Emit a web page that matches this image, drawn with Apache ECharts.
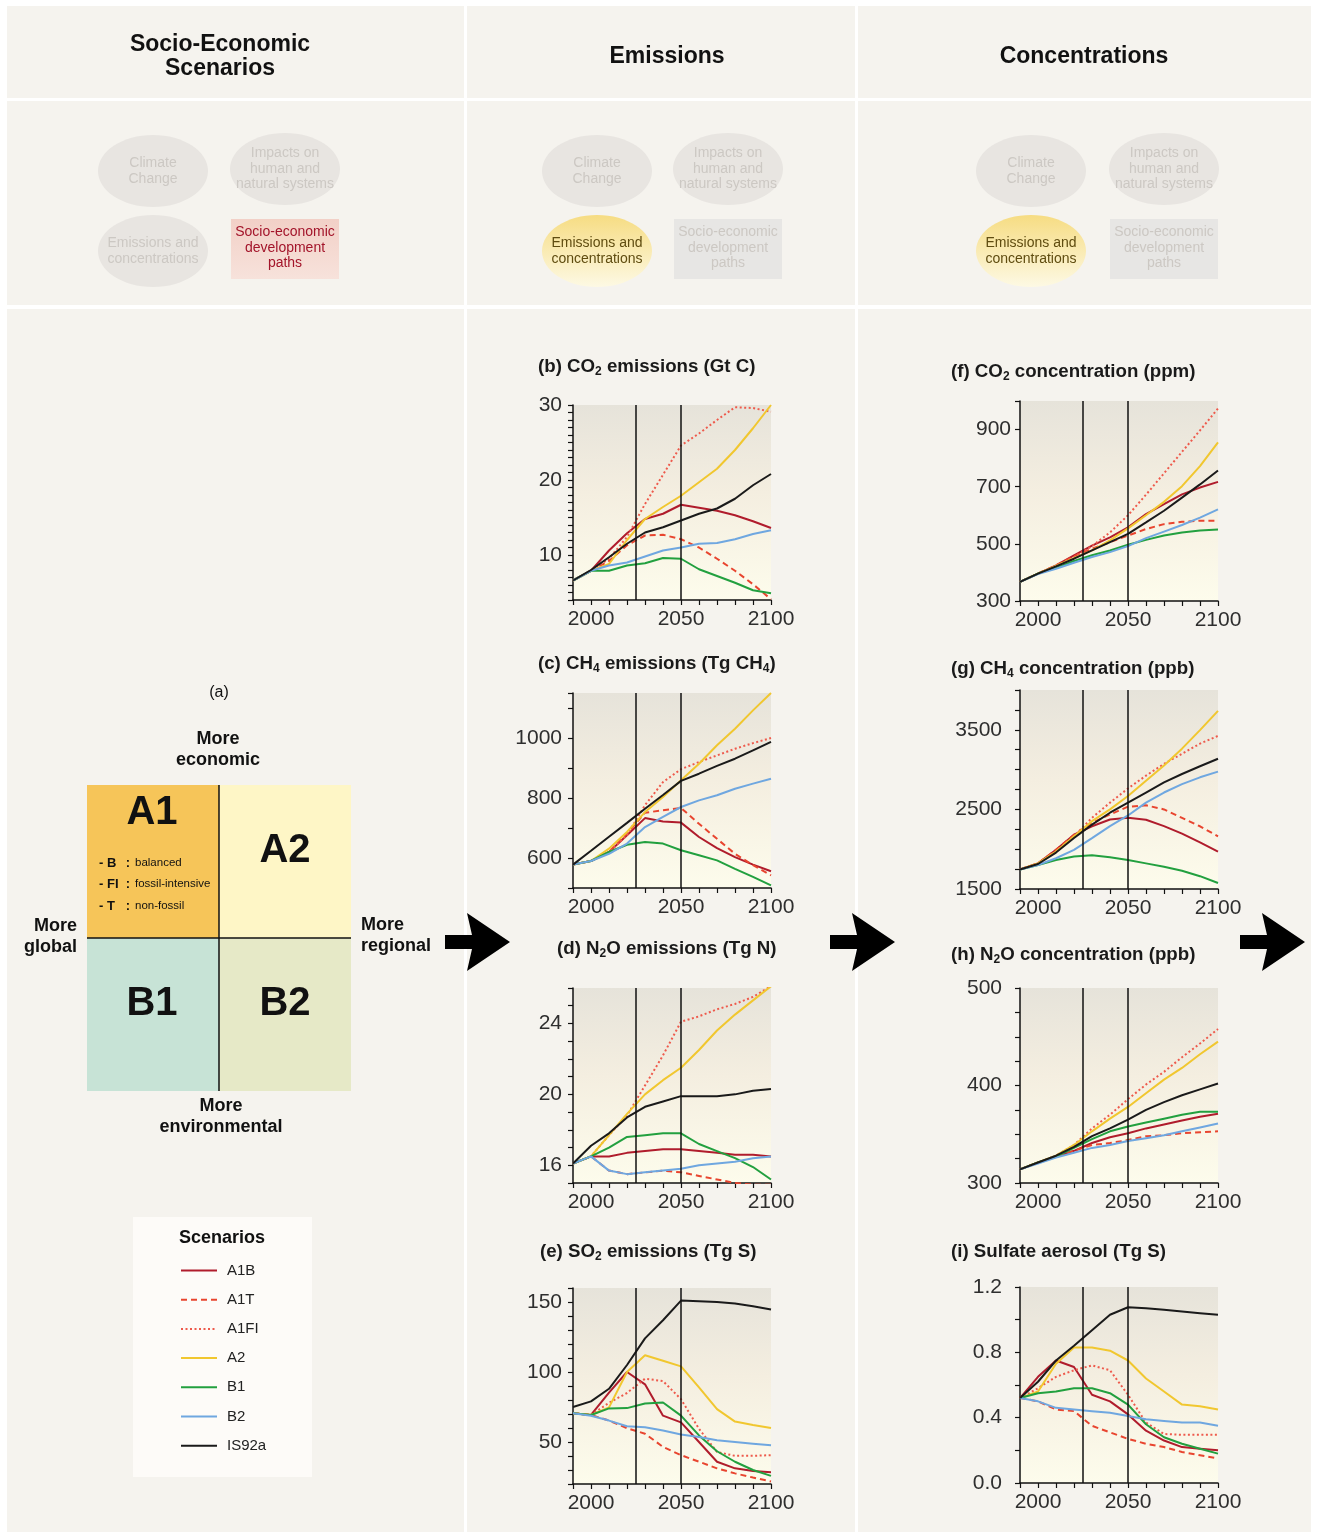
<!DOCTYPE html>
<html>
<head>
<meta charset="utf-8">
<script src="https://cdn.jsdelivr.net/npm/echarts@6/dist/echarts.min.js"></script>
<style>
  html, body { margin: 0; padding: 0; background: #ffffff; }
  #chart { width: 1319px; height: 1535px; }
</style>
</head>
<body>
<div id="chart"></div>
<script>
// ---- Data ------------------------------------------------------------
const years = [1990, 2000, 2010, 2020, 2030, 2040, 2050, 2060, 2070, 2080, 2090, 2100];
const scenarios = ['A1B', 'A1T', 'A1FI', 'A2', 'B1', 'B2', 'IS92a'];

// rows follow the order of `scenarios`
const co2Emissions = [
  [6.6, 7.9, 10.6, 12.9, 14.8, 15.5, 16.7, 16.3, 15.9, 15.3, 14.5, 13.6],
  [6.6, 7.9, 9.2, 11.3, 12.6, 12.7, 12.1, 11.0, 9.5, 7.9, 6.1, 4.1],
  [6.6, 7.9, 9.5, 12.4, 16.8, 20.7, 24.6, 26.2, 28.0, 29.7, 29.6, 29.1],
  [6.6, 7.9, 8.8, 12.0, 14.8, 16.4, 17.9, 19.7, 21.5, 24.0, 26.9, 30.0],
  [6.6, 7.9, 7.9, 8.6, 8.9, 9.6, 9.5, 8.1, 7.2, 6.3, 5.3, 4.9],
  [6.6, 7.9, 8.6, 9.0, 9.8, 10.6, 11.0, 11.5, 11.6, 12.1, 12.8, 13.3],
  [6.6, 8.0, 9.7, 11.5, 13.0, 13.7, 14.6, 15.5, 16.2, 17.5, 19.3, 20.8]
];
const ch4Emissions = [
  [578, 590, 620, 676, 733, 722, 718, 670, 633, 603, 578, 556],
  [578, 590, 620, 681, 751, 759, 767, 714, 664, 614, 576, 542],
  [578, 590, 620, 676, 776, 853, 896, 920, 942, 964, 983, 1000],
  [578, 590, 631, 687, 753, 803, 859, 914, 976, 1031, 1092, 1150],
  [578, 590, 620, 644, 653, 648, 626, 609, 592, 564, 537, 509],
  [578, 590, 614, 648, 703, 737, 770, 792, 809, 831, 848, 864],
  [578, 624, 671, 717, 764, 810, 857, 881, 907, 931, 959, 987]
];
const n2oEmissions = [
  [16.1, 16.5, 16.5, 16.7, 16.8, 16.9, 16.9, 16.8, 16.7, 16.6, 16.6, 16.5],
  [16.1, 16.5, 15.7, 15.5, 15.6, 15.7, 15.6, 15.4, 15.2, 15.0, 14.9, 14.9],
  [16.1, 16.5, 17.7, 18.8, 20.5, 22.2, 24.1, 24.4, 24.8, 25.1, 25.5, 26.1],
  [16.1, 16.5, 17.7, 18.9, 20.0, 20.8, 21.5, 22.5, 23.6, 24.5, 25.3, 26.1],
  [16.1, 16.5, 17.0, 17.6, 17.7, 17.8, 17.8, 17.2, 16.8, 16.4, 15.9, 15.2],
  [16.1, 16.5, 15.7, 15.5, 15.6, 15.7, 15.8, 16.0, 16.1, 16.2, 16.4, 16.5],
  [16.1, 17.1, 17.8, 18.7, 19.3, 19.6, 19.9, 19.9, 19.9, 20.0, 20.2, 20.3]
];
const so2Emissions = [
  [70.5, 69.3, 85.3, 100, 91.2, 68.8, 64.0, 50.0, 35.9, 31.2, 29.3, 28.4],
  [70.5, 69.3, 65.3, 59.9, 55.9, 46.5, 40.6, 35.9, 31.2, 27.6, 24.6, 21.8],
  [70.5, 69.3, 78.0, 85.0, 95.2, 93.5, 80.6, 59.4, 42.9, 40.1, 40.1, 40.6],
  [70.5, 69.3, 74.7, 100, 112, 108, 104, 89.0, 73.5, 64.6, 62.2, 60.0],
  [70.5, 69.3, 74.0, 74.2, 77.5, 78.2, 68.8, 54.7, 43.4, 35.9, 30.0, 25.8],
  [70.5, 68.8, 65.3, 61.3, 60.6, 58.2, 55.4, 53.5, 51.2, 50.0, 48.8, 47.6],
  [75.0, 79.0, 88.0, 105, 124, 137, 151, 150.5, 150, 149, 147, 144.6]
];
const co2Concentration = [
  [367, 396, 425, 460, 494, 523, 558, 604, 639, 673, 697, 717],
  [367, 396, 425, 457, 483, 506, 529, 552, 569, 577, 581, 581],
  [367, 396, 423, 454, 492, 540, 600, 672, 747, 822, 897, 974],
  [367, 396, 423, 450, 477, 512, 554, 600, 647, 702, 772, 855],
  [367, 396, 416, 440, 460, 477, 497, 514, 529, 540, 547, 550],
  [367, 394, 413, 434, 454, 471, 492, 520, 543, 566, 592, 621],
  [367, 396, 421, 448, 477, 506, 535, 575, 616, 662, 708, 757]
];
const ch4Concentration = [
  [1746, 1822, 1992, 2182, 2288, 2373, 2394, 2370, 2290, 2195, 2085, 1970],
  [1746, 1822, 1992, 2182, 2330, 2436, 2534, 2551, 2500, 2394, 2288, 2161],
  [1746, 1822, 1970, 2161, 2394, 2585, 2763, 2924, 3072, 3199, 3326, 3424],
  [1746, 1822, 1970, 2161, 2352, 2500, 2669, 2860, 3051, 3263, 3496, 3737],
  [1746, 1801, 1864, 1907, 1924, 1898, 1864, 1822, 1780, 1729, 1661, 1576],
  [1746, 1801, 1886, 1992, 2140, 2290, 2424, 2585, 2712, 2818, 2903, 2975],
  [1746, 1814, 1958, 2140, 2309, 2458, 2585, 2712, 2839, 2945, 3042, 3136]
];
const n2oConcentration = [
  [314, 321, 327, 333, 341, 347, 351, 356, 360, 364, 368, 371],
  [314, 321, 327, 333, 339, 341, 344, 348, 349, 351, 352, 353],
  [314, 321, 328, 339, 356, 370, 386, 401, 414, 429, 443, 458],
  [314, 321, 328, 339, 353, 366, 378, 392, 406, 418, 432, 445],
  [314, 321, 327, 336, 345, 353, 358, 362, 366, 370, 373, 373],
  [314, 320, 326, 331, 336, 339, 343, 346, 349, 353, 357, 361],
  [314, 321, 328, 337, 348, 356, 365, 375, 383, 390, 396, 402]
];
const sulfateAerosol = [
  [0.52, 0.65, 0.75, 0.71, 0.54, 0.50, 0.42, 0.32, 0.26, 0.22, 0.21, 0.20],
  [0.52, 0.50, 0.45, 0.44, 0.35, 0.31, 0.27, 0.24, 0.22, 0.19, 0.17, 0.15],
  [0.52, 0.58, 0.65, 0.69, 0.72, 0.69, 0.54, 0.37, 0.30, 0.295, 0.295, 0.295],
  [0.52, 0.56, 0.73, 0.83, 0.83, 0.81, 0.75, 0.64, 0.56, 0.48, 0.47, 0.45],
  [0.52, 0.55, 0.56, 0.58, 0.58, 0.55, 0.48, 0.36, 0.28, 0.24, 0.21, 0.18],
  [0.52, 0.50, 0.46, 0.45, 0.44, 0.43, 0.41, 0.39, 0.38, 0.37, 0.37, 0.35],
  [0.52, 0.62, 0.75, 0.84, 0.935, 1.03, 1.076, 1.07, 1.06, 1.05, 1.04, 1.03]
];

// y-axis tick labels per panel
const co2EmTicks = [10, 20, 30];
const ch4EmTicks = [600, 800, 1000];
const n2oEmTicks = [16, 20, 24];
const so2EmTicks = [50, 100, 150];
const co2ConcTicks = [300, 500, 700, 900];
const ch4ConcTicks = [1500, 2500, 3500];
const n2oConcTicks = [300, 400, 500];
const sulfateTicks = [0, 0.4, 0.8, 1.2];
const yearLabels = [2000, 2050, 2100];
const markerYears = [2025, 2050];

// ---- Styling ---------------------------------------------------------
const FONT = "'Liberation Sans', Arial, sans-serif";
const lineLook = {
  A1B:   { color: '#b01c2c', type: 'solid' },
  A1T:   { color: '#e8452f', type: [6, 4] },
  A1FI:  { color: '#ee5a4c', type: [2, 2.5] },
  A2:    { color: '#f1c72f', type: 'solid' },
  B1:    { color: '#22a03f', type: 'solid' },
  B2:    { color: '#6fa7e0', type: 'solid' },
  IS92a: { color: '#1a1a1a', type: 'solid' }
};

const panels = [
  { rows: co2Emissions,     min: 4,    max: 30,   step: 1,   ticks: co2EmTicks,   dec: 0, box: [573, 405, 198, 195], lm: 11,
    title: '{t|(b) CO}{s|2}{t| emissions (Gt C)}', tx: 538, ty: 367 },
  { rows: ch4Emissions,     min: 500,  max: 1150, step: 100, ticks: ch4EmTicks,   dec: 0, box: [573, 693, 198, 195], lm: 11,
    title: '{t|(c) CH}{s|4}{t| emissions (Tg CH}{s|4}{t|)}', tx: 538, ty: 664 },
  { rows: n2oEmissions,     min: 15,   max: 26,   step: 1,   ticks: n2oEmTicks,   dec: 0, box: [573, 988, 198, 195], lm: 11,
    title: '{t|(d) N}{s|2}{t|O emissions (Tg N)}', tx: 557, ty: 949 },
  { rows: so2Emissions,     min: 20,   max: 160,  step: 10,  ticks: so2EmTicks,   dec: 0, box: [573, 1288, 198, 196], lm: 11,
    title: '{t|(e) SO}{s|2}{t| emissions (Tg S)}', tx: 540, ty: 1252 },
  { rows: co2Concentration, min: 300,  max: 1000, step: 200, ticks: co2ConcTicks, dec: 0, box: [1020, 401, 198, 200], lm: 9,
    title: '{t|(f) CO}{s|2}{t| concentration (ppm)}', tx: 951, ty: 372 },
  { rows: ch4Concentration, min: 1500, max: 4000, step: 250, ticks: ch4ConcTicks, dec: 0, box: [1020, 690, 198, 199], lm: 18,
    title: '{t|(g) CH}{s|4}{t| concentration (ppb)}', tx: 951, ty: 669 },
  { rows: n2oConcentration, min: 300,  max: 500,  step: 25,  ticks: n2oConcTicks, dec: 0, box: [1020, 988, 198, 195], lm: 18,
    title: '{t|(h) N}{s|2}{t|O concentration (ppb)}', tx: 951, ty: 955 },
  { rows: sulfateAerosol,   min: 0,    max: 1.2,  step: 0.2, ticks: sulfateTicks, dec: 1, box: [1020, 1287, 198, 196], lm: 18,
    title: '{t|(i) Sulfate aerosol (Tg S)}', tx: 951, ty: 1252 }
];

const plotFill = new echarts.graphic.LinearGradient(0, 0, 0, 1, [
  { offset: 0, color: '#e6e3da' },
  { offset: 0.45, color: '#f4eee0' },
  { offset: 1, color: '#fdfcec' }
]);

const grid = [], xAxis = [], yAxis = [], series = [];
panels.forEach((p, pi) => {
  grid.push({ left: p.box[0], top: p.box[1], width: p.box[2], height: p.box[3],
              show: true, backgroundColor: plotFill, borderWidth: 0, containLabel: false });
  xAxis.push({
    type: 'value', gridIndex: pi, min: 1990, max: 2100, interval: 10,
    axisLine: { show: true, onZero: false, lineStyle: { color: '#111', width: 1.5 } },
    axisTick: { show: true, length: 5, lineStyle: { color: '#111', width: 1.2 } },
    splitLine: { show: false },
    axisLabel: { margin: 9, fontSize: 21, color: '#2e2e2e', fontFamily: FONT,
                 formatter: v => (yearLabels.indexOf(v) >= 0 ? String(v) : '') }
  });
  yAxis.push({
    type: 'value', gridIndex: pi, min: p.min, max: p.max, interval: p.step,
    axisLine: { show: true, onZero: false, lineStyle: { color: '#111', width: 1.5 } },
    axisTick: { show: true, length: 5, lineStyle: { color: '#111', width: 1.2 } },
    splitLine: { show: false },
    axisLabel: { margin: p.lm, fontSize: 21, color: '#2e2e2e', fontFamily: FONT,
                 showMaxLabel: true,
                 formatter: v => (p.ticks.some(t => Math.abs(t - v) < 1e-6) ? v.toFixed(p.dec) : '') }
  });
  scenarios.forEach((name, si) => {
    const s = {
      type: 'line', name: name, xAxisIndex: pi, yAxisIndex: pi,
      data: years.map((yr, k) => [yr, p.rows[si][k]]),
      symbol: 'none', silent: true, animation: false,
      lineStyle: { color: lineLook[name].color, width: 2, type: lineLook[name].type },
      itemStyle: { color: lineLook[name].color }
    };
    if (si === scenarios.length - 1) {
      s.markLine = {
        silent: true, symbol: ['none', 'none'], animation: false,
        label: { show: false },
        lineStyle: { color: '#111', width: 1.5, type: 'solid' },
        data: markerYears.map(y => ({ xAxis: y }))
      };
    }
    series.push(s);
  });
});

// ---- Decorations -----------------------------------------------------
const g = [];
const cellFill = '#f5f3ee';
g.push({ type: 'rect', shape: { x: 0, y: 0, width: 1319, height: 1535 }, style: { fill: '#ffffff' }, z: -10 });
[[7, 457], [467, 388], [858, 453]].forEach(([x, w]) => {
  g.push({ type: 'rect', shape: { x: x, y: 6, width: w, height: 92 }, style: { fill: cellFill }, z: -9 });
  g.push({ type: 'rect', shape: { x: x, y: 101, width: w, height: 204 }, style: { fill: cellFill }, z: -9 });
  g.push({ type: 'rect', shape: { x: x, y: 309, width: w, height: 1223 }, style: { fill: cellFill }, z: -9 });
});

function label(text, x, y, size, opts) {
  opts = opts || {};
  return { type: 'text', x: x, y: y, z: 5,
    style: { text: text, fontSize: size, fontFamily: opts.family || FONT, fontWeight: opts.weight || 'normal',
             fill: opts.color || '#111', align: opts.align || 'center', verticalAlign: 'middle',
             lineHeight: opts.lh || size * 1.1 } };
}

// column headings
g.push(label('Socio-Economic\nScenarios', 220, 57, 23, { weight: 'bold', lh: 24 }));
g.push(label('Emissions', 667, 57, 23, { weight: 'bold' }));
g.push(label('Concentrations', 1084, 57, 23, { weight: 'bold' }));

// small schematic in each column
const faded = '#ccc8c3';
function schematic(cx1, cx2, active) {
  const e = (cx, cy, txt, on) => {
    const fill = on ? new echarts.graphic.LinearGradient(0, 0, 0, 1, [
      { offset: 0, color: '#f6dc82' }, { offset: 1, color: '#fdf9e4' }]) : '#e8e5e1';
    g.push({ type: 'ellipse', shape: { cx: cx, cy: cy, rx: 55, ry: 36 }, style: { fill: fill }, z: 1 });
    g.push(label(txt, cx, cy, 14, { color: on ? '#5f4c10' : faded, lh: 15.5 }));
  };
  e(cx1, 171, 'Climate\nChange', false);
  e(cx2, 169, 'Impacts on\nhuman and\nnatural systems', false);
  e(cx1, 251, 'Emissions and\nconcentrations', active === 'emis');
  const on = active === 'socio';
  const rf = on ? new echarts.graphic.LinearGradient(0, 0, 0, 1, [
    { offset: 0, color: '#f2d0c7' }, { offset: 1, color: '#f7e2db' }]) : '#e7e6e4';
  g.push({ type: 'rect', shape: { x: cx2 - 54, y: 219, width: 108, height: 60 }, style: { fill: rf }, z: 1 });
  g.push(label('Socio-economic\ndevelopment\npaths', cx2, 248, 14, { color: on ? '#a3142a' : faded, lh: 15.5 }));
}
schematic(153, 285, 'socio');
schematic(597, 728, 'emis');
schematic(1031, 1164, 'emis');

// panel titles
panels.forEach(p => {
  g.push({ type: 'text', x: p.tx, y: p.ty, z: 5,
    style: { text: p.title, align: 'left', verticalAlign: 'middle', fill: '#1a1a1a',
      rich: {
        t: { fontSize: 18.7, fontWeight: 'bold', fontFamily: FONT, fill: '#1a1a1a', lineHeight: 22 },
        s: { fontSize: 12, fontWeight: 'bold', fontFamily: FONT, fill: '#1a1a1a', lineHeight: 13, verticalAlign: 'bottom' }
      } } });
});

// (a) scenario quadrants
g.push(label('(a)', 219, 693, 16));
g.push(label('More\neconomic', 218, 750, 18, { weight: 'bold', lh: 21 }));
g.push(label('More\nenvironmental', 221, 1117, 18, { weight: 'bold', lh: 21 }));
g.push(label('More\nglobal', 77, 937, 18, { weight: 'bold', lh: 21, align: 'right' }));
g.push(label('More\nregional', 361, 936, 18, { weight: 'bold', lh: 21, align: 'left' }));
[[87, 785, '#f6c559'], [219, 785, '#fef6c6'], [87, 938, '#c7e3d6'], [219, 938, '#e6e9c7']].forEach(([x, y, c]) => {
  g.push({ type: 'rect', shape: { x: x, y: y, width: 132, height: 153 }, style: { fill: c }, z: 1 });
});
g.push({ type: 'line', shape: { x1: 219, y1: 785, x2: 219, y2: 1091 }, style: { stroke: '#111', lineWidth: 1.5 }, z: 2 });
g.push({ type: 'line', shape: { x1: 87, y1: 938, x2: 351, y2: 938 }, style: { stroke: '#111', lineWidth: 1.5 }, z: 2 });
g.push(label('A1', 152, 813, 40, { weight: 'bold' }));
g.push(label('A2', 285, 851, 40, { weight: 'bold' }));
g.push(label('B1', 152, 1004, 40, { weight: 'bold' }));
g.push(label('B2', 285, 1004, 40, { weight: 'bold' }));
[['- B', 863, 'balanced'], ['- FI', 884, 'fossil-intensive'], ['- T', 906, 'non-fossil']].forEach(([k, y, d]) => {
  g.push(label(k, 99, y, 13, { weight: 'bold', align: 'left' }));
  g.push(label(':', 128, y, 13, { weight: 'bold' }));
  g.push(label(d, 135, y, 11.5, { align: 'left' }));
});

// arrows between columns
function arrow(x0) {
  const cy = 942;
  return { type: 'polygon', z: 6, style: { fill: '#000' },
    shape: { points: [[x0, cy - 7], [x0 + 27, cy - 7], [x0 + 22, cy - 29], [x0 + 65, cy],
                      [x0 + 22, cy + 29], [x0 + 27, cy + 7], [x0, cy + 7]] } };
}
g.push(arrow(445), arrow(830), arrow(1240));

// legend panel
g.push({ type: 'rect', shape: { x: 133, y: 1217, width: 179, height: 260 }, style: { fill: '#fdfbf8' }, z: 1 });
g.push(label('Scenarios', 222, 1238, 18, { weight: 'bold' }));

const option = {
  animation: false,
  backgroundColor: '#ffffff',
  grid: grid, xAxis: xAxis, yAxis: yAxis, series: series,
  legend: {
    data: scenarios, orient: 'vertical', left: 180, top: 1263, padding: 0,
    itemWidth: 36, itemHeight: 14, itemGap: 14.2, selectedMode: false,
    itemStyle: { color: 'rgba(0,0,0,0)', borderWidth: 0, opacity: 0 },
    textStyle: { fontSize: 15, color: '#222', fontFamily: FONT, padding: [0, 0, 0, 5] }
  },
  graphic: { elements: g }
};

const chart = echarts.init(document.getElementById('chart'), null, { renderer: 'canvas' });
chart.setOption(option);
</script>
</body>
</html>
